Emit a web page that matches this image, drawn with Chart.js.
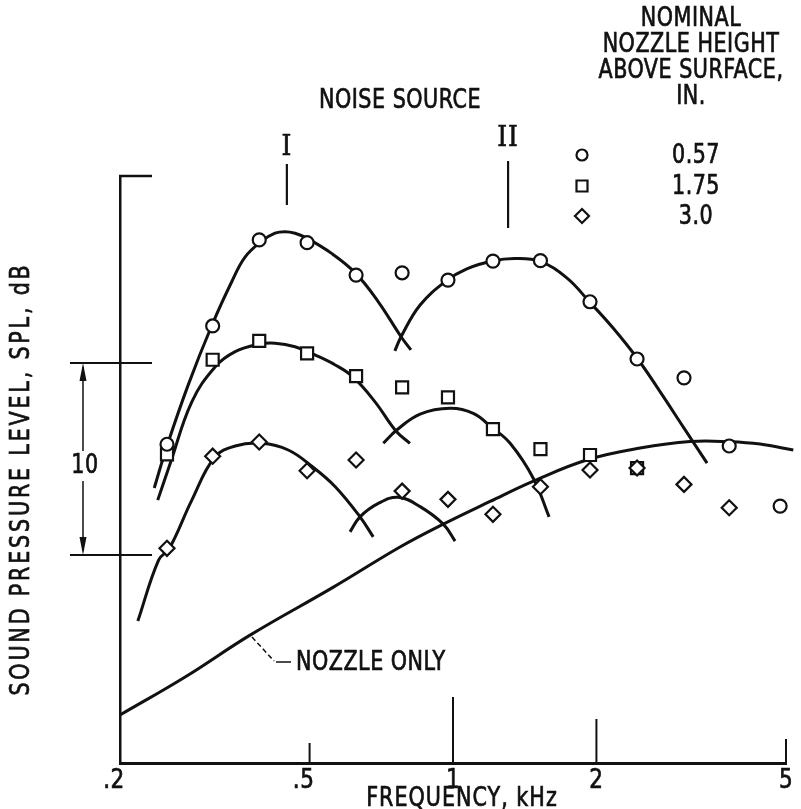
<!DOCTYPE html>
<html lang="en">
<head>
  <meta charset="UTF-8" />
  <title>Sound pressure level spectra</title>
  <script src="https://cdn.jsdelivr.net/npm/chart.js"></script>
  <style>
    body { margin: 0; background: #fff; }
    canvas { display: block; }
  </style>
</head>
<body>
  <canvas id="spectra" width="801" height="809"></canvas>

  <script>
    // one-third-octave band centres, kHz
    const freqKHz = [0.251, 0.313, 0.392, 0.494, 0.626, 0.782, 0.976, 1.213, 1.526, 1.939, 2.434, 3.054, 3.80, 4.86];

    // measured SPL (relative dB) for each nozzle height
    const heightLabels = ['0.57', '1.75', '3.0'];
    const spl057 = [15.77, 21.93, 26.41, 26.27, 24.58, 24.70, 24.32, 25.31, 25.33, 23.19, 20.21, 19.23, 15.68, 12.55];
    const spl175 = [15.24, 20.17, 21.15, 20.50, 19.32, 18.73, 18.21, 16.56, 15.52, 15.21, 14.53, null, null, null];
    const spl30  = [10.35, 15.15, 15.89, 14.39, 14.95, 13.33, 12.90, 12.12, 13.56, 14.43, 14.53, 13.68, 12.46, null];

    // faired curves, source I and source II for each height
    const fairI057F  = [0.236, 0.251, 0.278, 0.312, 0.343, 0.366, 0.397, 0.423, 0.444, 0.466, 0.491, 0.556, 0.625, 0.697, 0.778, 0.816];
    const fairI057Db = [13.49, 15.68, 18.85, 21.98, 24.22, 25.52, 26.35, 26.76, 26.84, 26.76, 26.53, 25.71, 24.67, 23.19, 21.37, 20.68];
    const fairII057F  = [0.755, 0.778, 0.853, 0.967, 1.069, 1.209, 1.350, 1.523, 1.733, 1.933, 2.170, 2.442, 2.720, 3.054, 3.414];
    const fairII057Db = [20.63, 21.37, 23.02, 24.27, 24.90, 25.31, 25.44, 25.29, 24.43, 23.19, 21.81, 20.21, 18.51, 16.61, 14.79];

    const fairI175F  = [0.240, 0.255, 0.283, 0.317, 0.349, 0.390, 0.423, 0.466, 0.513, 0.566, 0.616, 0.686, 0.759, 0.812];
    const fairI175Db = [12.86, 14.78, 17.98, 19.81, 20.59, 20.97, 21.03, 20.85, 20.42, 19.90, 19.29, 17.98, 16.46, 15.82];
    const fairII175F  = [0.714, 0.762, 0.853, 0.986, 1.103, 1.202, 1.318, 1.475, 1.591];
    const fairII175Db = [15.82, 16.51, 17.34, 17.64, 17.38, 16.68, 15.82, 13.99, 11.99];

    const fairI30F  = [0.218, 0.241, 0.254, 0.283, 0.316, 0.349, 0.397, 0.451, 0.507, 0.566, 0.638, 0.680];
    const fairI30Db = [6.56, 9.74, 10.35, 12.86, 15.09, 15.68, 15.82, 15.47, 14.60, 13.56, 11.99, 10.95];
    const fairII30F  = [0.608, 0.638, 0.697, 0.768, 0.853, 0.954, 1.010];
    const fairII30Db = [11.21, 11.99, 12.69, 13.01, 12.52, 11.61, 10.73];

    // nozzle alone, no surface
    const nozzleF  = [0.200, 0.274, 0.375, 0.561, 0.774, 0.954, 1.196, 1.475, 1.908, 2.470, 3.144, 3.814, 4.41, 5.18];
    const nozzleDb = [1.67, 3.65, 5.83, 8.33, 10.42, 11.61, 12.79, 13.85, 14.95, 15.57, 15.91, 15.90, 15.78, 15.47];

    // axis marks
    const xTickValues = [0.2, 0.5, 1, 2, 5];
    const xTickLabels = ['.2', '.5', '1', '2', '5'];
    const bracketDb = [10, 20];          // the 10-dB reference span
    const noiseSourceKHz = [0.448, 1.305];
    const noiseSourceLabels = ['I', 'II'];

    const ink = '#111';
    const lettering = '"DejaVu Sans Condensed", "Liberation Sans Narrow", sans-serif';

    const pts = (fs, vs) => fs.map((f, i) => ({ x: f, y: vs[i] })).filter(p => p.y !== null);

    const markerSet = (label, values, style, radius, order) => ({
      label,
      data: pts(freqKHz, values),
      pointStyle: style,
      pointRadius: radius,
      pointBorderWidth: 2.2,
      pointBorderColor: ink,
      pointBackgroundColor: '#fff',
      showLine: false,
      clip: false,
      order
    });

    const curve = (fs, vs) => ({
      data: pts(fs, vs),
      showLine: true,
      pointRadius: 0,
      borderColor: ink,
      borderWidth: 3,
      tension: 0.4,
      fill: false,
      clip: false,
      order: 5
    });

    function drawMarker(ctx, style, x, y, r) {
      ctx.beginPath();
      if (style === 'circle') {
        ctx.arc(x, y, r, 0, Math.PI * 2);
      } else if (style === 'rect') {
        ctx.rect(x - r, y - r, 2 * r, 2 * r);
      } else {
        ctx.moveTo(x, y - r); ctx.lineTo(x + r, y); ctx.lineTo(x, y + r); ctx.lineTo(x - r, y);
        ctx.closePath();
      }
      ctx.fillStyle = '#fff';
      ctx.fill();
      ctx.lineWidth = 2.2;
      ctx.strokeStyle = ink;
      ctx.stroke();
    }

    function seg(ctx, x1, y1, x2, y2, w) {
      ctx.lineWidth = w || 2;
      ctx.beginPath();
      ctx.moveTo(x1, y1);
      ctx.lineTo(x2, y2);
      ctx.stroke();
    }

    // tall, slightly heavy lettering
    function letter(ctx, text, x, y, size, opt) {
      opt = opt || {};
      ctx.save();
      ctx.translate(x, y);
      if (opt.rotate) ctx.rotate(opt.rotate);
      ctx.scale(1, opt.stretch || 1.12);
      ctx.font = size + 'px ' + (opt.family || lettering);
      ctx.textAlign = opt.align || 'center';
      ctx.textBaseline = 'middle';
      ctx.letterSpacing = opt.spacing || '0.5px';
      ctx.fillStyle = ink;
      ctx.strokeStyle = ink;
      ctx.lineWidth = 0.6;
      ctx.fillText(text, 0, 0);
      ctx.strokeText(text, 0, 0);
      ctx.restore();
    }

    // lettering, ticks, reference span, source markers and key
    const decor = {
      id: 'decor',
      afterDraw(chart) {
        const { ctx, chartArea: a, scales: { x, y } } = chart;
        ctx.save();
        ctx.strokeStyle = ink;
        ctx.fillStyle = ink;

        // cap at top of SPL axis
        seg(ctx, a.left - 1, a.top, a.left + 32, a.top, 2.5);

        // 10-dB span with arrows
        const yHi = y.getPixelForValue(bracketDb[1]);
        const yLo = y.getPixelForValue(bracketDb[0]);
        seg(ctx, 70, yHi, a.left + 32, yHi, 2);
        seg(ctx, 70, yLo, a.left + 32, yLo, 2);
        seg(ctx, 83, yHi + 4, 83, 451, 1.5);
        seg(ctx, 83, 481, 83, yLo - 4, 1.5);
        ctx.beginPath();
        ctx.moveTo(83, yHi); ctx.lineTo(79.5, yHi + 18); ctx.lineTo(86.5, yHi + 18); ctx.closePath();
        ctx.moveTo(83, yLo); ctx.lineTo(79.5, yLo - 18); ctx.lineTo(86.5, yLo - 18); ctx.closePath();
        ctx.fill();
        letter(ctx, String(bracketDb[1] - bracketDb[0]), 85, 466, 23);

        // frequency ticks, drawn up from the axis
        const tickLen = [0, 20, 66, 44, 24];
        xTickValues.forEach((v, i) => {
          const px = x.getPixelForValue(v);
          if (tickLen[i]) seg(ctx, px, a.bottom, px, a.bottom - tickLen[i], 2);
          const dot = xTickLabels[i][0] === '.';
          letter(ctx, xTickLabels[i], px - (dot ? 6 : 0), 781, 24);
        });

        // axis titles
        letter(ctx, 'FREQUENCY, kHz', 462, 799, 23, { spacing: '1px' });
        letter(ctx, 'SOUND PRESSURE LEVEL, SPL, dB', 22, 479, 23,
          { rotate: -Math.PI / 2, spacing: '2.8px' });

        // noise source markers
        letter(ctx, 'NOISE SOURCE', 400, 101, 23);
        const srcTop = [164, 161], srcBot = [205, 228], srcLab = [148, 139];
        noiseSourceKHz.forEach((f, i) => {
          const px = x.getPixelForValue(f);
          seg(ctx, px, srcTop[i], px, srcBot[i], 2.2);
          letter(ctx, noiseSourceLabels[i], px, srcLab[i], 25,
            { family: '"DejaVu Serif", "Liberation Serif", serif', stretch: 1.1, spacing: '1px' });
        });

        // nozzle-only callout
        ctx.setLineDash([5, 3]);
        seg(ctx, 252, 637, 274, 661, 1.5);
        ctx.setLineDash([]);
        seg(ctx, 276, 662, 291, 662, 1.5);
        letter(ctx, 'NOZZLE ONLY', 296, 663, 23, { align: 'left' });

        // key
        ['NOMINAL', 'NOZZLE HEIGHT', 'ABOVE SURFACE,', 'IN.'].forEach((t, i) => {
          letter(ctx, t, 691, 19 + i * 26, 23);
        });
        const rowY = [155, 186, 216];
        const keyR = { circle: 5.5, rect: 5.5, rectRot: 7 };
        chart.data.datasets.slice(0, 3).forEach((ds, i) => {
          drawMarker(ctx, ds.pointStyle, 582, rowY[i], keyR[ds.pointStyle]);
          letter(ctx, ds.label, 696, rowY[i] + 1, 23);
        });

        ctx.restore();
      }
    };

    new Chart(document.getElementById('spectra'), {
      type: 'scatter',
      data: {
        datasets: [
          markerSet(heightLabels[0], spl057, 'circle', 6.5, 1),
          markerSet(heightLabels[1], spl175, 'rect', 8.5, 2),
          markerSet(heightLabels[2], spl30, 'rectRot', 7.5, 0),
          curve(fairI057F, fairI057Db),
          curve(fairII057F, fairII057Db),
          curve(fairI175F, fairI175Db),
          curve(fairII175F, fairII175Db),
          curve(fairI30F, fairI30Db),
          curve(fairII30F, fairII30Db),
          curve(nozzleF, nozzleDb)
        ]
      },
      options: {
        responsive: false,
        animation: false,
        layout: { padding: { left: 120, right: 15, top: 176, bottom: 46 } },
        plugins: { legend: { display: false }, tooltip: { enabled: false } },
        scales: {
          x: {
            type: 'logarithmic',
            min: 0.2,
            max: 5,
            ticks: { display: false },
            grid: { display: false, drawTicks: false },
            border: { display: true, color: ink, width: 3 }
          },
          y: {
            min: -0.83,
            max: 29.74,
            ticks: { display: false },
            grid: { display: false, drawTicks: false },
            border: { display: true, color: ink, width: 2.5 }
          }
        }
      },
      plugins: [decor]
    });
  </script>
</body>
</html>
